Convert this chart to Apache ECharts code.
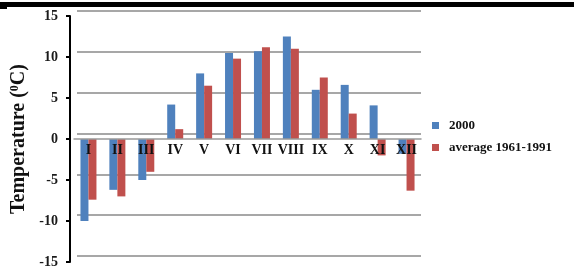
<!DOCTYPE html>
<html><head><meta charset="utf-8">
<script src="https://cdn.jsdelivr.net/npm/echarts@6/dist/echarts.min.js"></script>
<style>html,body{margin:0;padding:0;background:#fff}#c{width:574px;height:266px}</style>
</head><body><div id="c"></div>
<script>
const categories = ['I','II','III','IV','V','VI','VII','VIII','IX','X','XI','XII'];
const series2000 = [-10, -6.2, -5, 4.2, 8.0, 10.5, 10.7, 12.5, 6.0, 6.6, 4.1, -1.8];
const seriesAvg = [-7.4, -7, -4, 1.2, 6.5, 9.8, 11.2, 11.0, 7.5, 3.1, -2.0, -6.3];
const yTicks = [-15, 15, 5];
const seriesNames = ['2000', 'average 1961-1991'];

const FONT = 'Liberation Serif';
const chart = echarts.init(document.getElementById('c'));
chart.setOption({
  animation: false,
  graphic: [
    {type: 'rect', shape: {x: 0, y: 2, width: 574, height: 5}, style: {fill: '#000'}},
    {type: 'rect', shape: {x: 0, y: 7, width: 7, height: 2}, style: {fill: '#000'}}
  ],
  grid: [
    {left: 74, right: 153, top: 16, bottom: 4, outerBoundsMode: 'none', containLabel: false},
    {left: 77, right: 153, top: 11, bottom: 10, outerBoundsMode: 'none', containLabel: false}
  ],
  legend: {
    orient: 'vertical', left: 427, top: 114, itemWidth: 7, itemHeight: 7, itemGap: 9,
    icon: 'rect',
    textStyle: {fontFamily: FONT, fontWeight: 'bold', fontSize: 13, color: '#111', padding: [0,0,0,5]},
    data: seriesNames
  },
  xAxis: [
    {type: 'category', gridIndex: 0, data: categories, offset: -123, z: 10,
     axisLine: {onZero: false, lineStyle: {color: '#999', width: 1.5}},
     axisTick: {show: false},
     axisLabel: {fontFamily: FONT, fontWeight: 'bold', fontSize: 14, color: '#111', margin: 4, interval: 0, hideOverlap: false},
     splitLine: {show: false}},
    {type: 'category', gridIndex: 1, data: categories, show: false}
  ],
  yAxis: [
    {type: 'value', gridIndex: 0, min: yTicks[0], max: yTicks[1], interval: yTicks[2], offset: 4,
     axisLine: {show: true, lineStyle: {color: '#000', width: 2}},
     axisTick: {show: true, length: 4, lineStyle: {color: '#000', width: 2}},
     axisLabel: {fontFamily: FONT, fontWeight: 'bold', fontSize: 14, color: '#1a1a1a', margin: 12},
     splitLine: {show: false},
     name: 'Temperature ({s|0}C)', nameLocation: 'middle', nameGap: 39, nameRotate: 90,
     nameTextStyle: {fontFamily: FONT, fontWeight: 'bold', fontSize: 20, color: '#111',
       rich: {s: {fontFamily: FONT, fontWeight: 'bold', fontSize: 12, color: '#111', verticalAlign: 'top', padding: [0,0,6,0]}}}},
    {type: 'value', gridIndex: 1, min: yTicks[0], max: yTicks[1], interval: yTicks[2],
     axisLine: {show: false}, axisTick: {show: false}, axisLabel: {show: false},
     splitLine: {show: true, lineStyle: {color: '#8a8a8a', width: 1.5}}}
  ],
  series: [
    {name: seriesNames[0], type: 'bar', xAxisIndex: 0, yAxisIndex: 0, data: series2000,
     barWidth: 8, barGap: '0%', itemStyle: {color: '#4F81BD'}},
    {name: seriesNames[1], type: 'bar', xAxisIndex: 0, yAxisIndex: 0, data: seriesAvg,
     barWidth: 8, barGap: '0%', itemStyle: {color: '#C0504D'}}
  ]
});
</script></body></html>
